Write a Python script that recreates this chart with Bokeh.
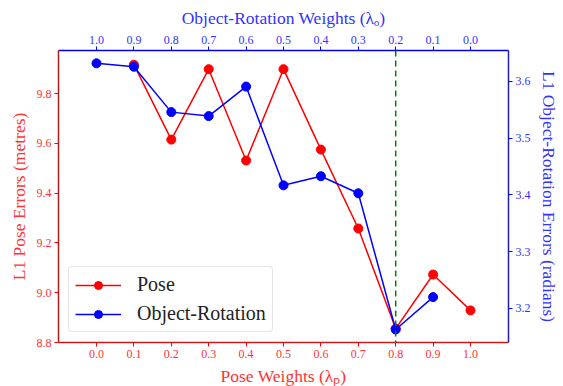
from bokeh.plotting import figure
from bokeh.models import (LinearAxis, Range1d, FixedTicker, PrintfTickFormatter,
                          Legend, LegendItem, Span)
from bokeh.embed import file_html
from bokeh.resources import INLINE

pose_weights = [0.1, 0.2, 0.3, 0.4, 0.5, 0.6, 0.7, 0.8, 0.9, 1.0]
pose_errors = [9.916, 9.615, 9.898, 9.531, 9.898, 9.575, 9.258, 8.856, 9.073, 8.929]
rot_weights_x = [0.0, 0.1, 0.2, 0.3, 0.4, 0.5, 0.6, 0.7, 0.8, 0.9]
rot_errors = [3.632, 3.626, 3.546, 3.539, 3.591, 3.417, 3.433, 3.403, 3.163, 3.220]
x_ticks = [0.0, 0.1, 0.2, 0.3, 0.4, 0.5, 0.6, 0.7, 0.8, 0.9, 1.0]
left_ticks = [8.8, 9.0, 9.2, 9.4, 9.6, 9.8]
right_ticks = [3.2, 3.3, 3.4, 3.5, 3.6]
best_weight = 0.8

FONT = "DejaVu Serif"
RED = "#ff0000"
BLUE = "#0000ff"
RED_T = "#ff3333"
BLUE_T = "#3333ff"

p = figure(frame_width=450, frame_height=292, output_backend="svg",
           toolbar_location=None, x_range=Range1d(-0.1016, 1.1016),
           y_range=Range1d(8.8, 9.973),
           min_border_left=58, min_border_right=47, min_border_top=50,
           min_border_bottom=36)
p.extra_y_ranges = {"rot": Range1d(3.14, 3.6546)}
p.extra_x_ranges = {"top": Range1d(1.1016, -0.1016)}
p.xgrid.visible = False
p.ygrid.visible = False
p.outline_line_color = None
p.background_fill_color = "white"
p.border_fill_color = "white"


def style(ax, color, tcolor, lcolor):
    ax.axis_line_color = lcolor
    ax.axis_line_width = 1.5
    ax.major_tick_line_color = color
    ax.major_tick_out = 4
    ax.major_tick_in = 0
    ax.minor_tick_line_color = None
    ax.major_label_text_color = tcolor
    ax.major_label_text_font = "Liberation Serif"
    ax.major_label_text_font_size = "12px"
    ax.major_label_standoff = 3
    ax.axis_label_text_color = tcolor
    ax.axis_label_text_font = "Liberation Serif"
    ax.axis_label_text_font_size = "17.5px"
    ax.axis_label_text_font_style = "normal"
    ax.axis_label_standoff = 5


bx = p.xaxis[0]
bx.ticker = FixedTicker(ticks=x_ticks)
bx.formatter = PrintfTickFormatter(format="%.1f")
bx.axis_label = "Pose Weights (λₚ)"
style(bx, RED, RED_T, "#c41a1a")

ly = p.yaxis[0]
ly.ticker = FixedTicker(ticks=left_ticks)
ly.formatter = PrintfTickFormatter(format="%.1f")
ly.axis_label = "L1 Pose Errors (metres)"
style(ly, RED, RED_T, "#b01c1c")

ry = LinearAxis(y_range_name="rot", ticker=FixedTicker(ticks=right_ticks),
                formatter=PrintfTickFormatter(format="%.1f"),
                axis_label="L1 Object-Rotation Errors (radians)")
style(ry, BLUE, BLUE_T, "#2020b0")
p.add_layout(ry, "right")

tx = LinearAxis(x_range_name="top", ticker=FixedTicker(ticks=x_ticks),
                formatter=PrintfTickFormatter(format="%.1f"),
                axis_label="Object-Rotation Weights (λₒ)")
style(tx, BLUE, BLUE_T, "#0000ee")
p.add_layout(tx, "above")

p.add_layout(Span(location=best_weight, dimension="height", line_color="#008000",
                  line_dash="6 4", line_width=1.5))

r1 = p.line(pose_weights, pose_errors, line_color=RED, line_width=1.5)
r1c = p.scatter(pose_weights, pose_errors, size=9, fill_color=RED, line_color=RED)
r2 = p.line(rot_weights_x, rot_errors, line_color=BLUE, line_width=1.5, y_range_name="rot")
r2c = p.scatter(rot_weights_x, rot_errors, size=9, fill_color=BLUE, line_color=BLUE,
                y_range_name="rot")

legend = Legend(items=[LegendItem(label="Pose", renderers=[r1, r1c]),
                       LegendItem(label="Object-Rotation", renderers=[r2, r2c])],
                location="bottom_left")
legend.label_text_font = "Liberation Serif"
legend.label_text_font_size = "20px"
legend.label_text_color = "#222222"
legend.border_line_color = "#cccccc"
legend.border_radius = 4
legend.margin = 10
legend.padding = 6
legend.spacing = 6
legend.glyph_width = 46
legend.label_standoff = 16
legend.background_fill_alpha = 0.8
p.add_layout(legend)

open("out.html", "w").write(file_html(p, INLINE))
